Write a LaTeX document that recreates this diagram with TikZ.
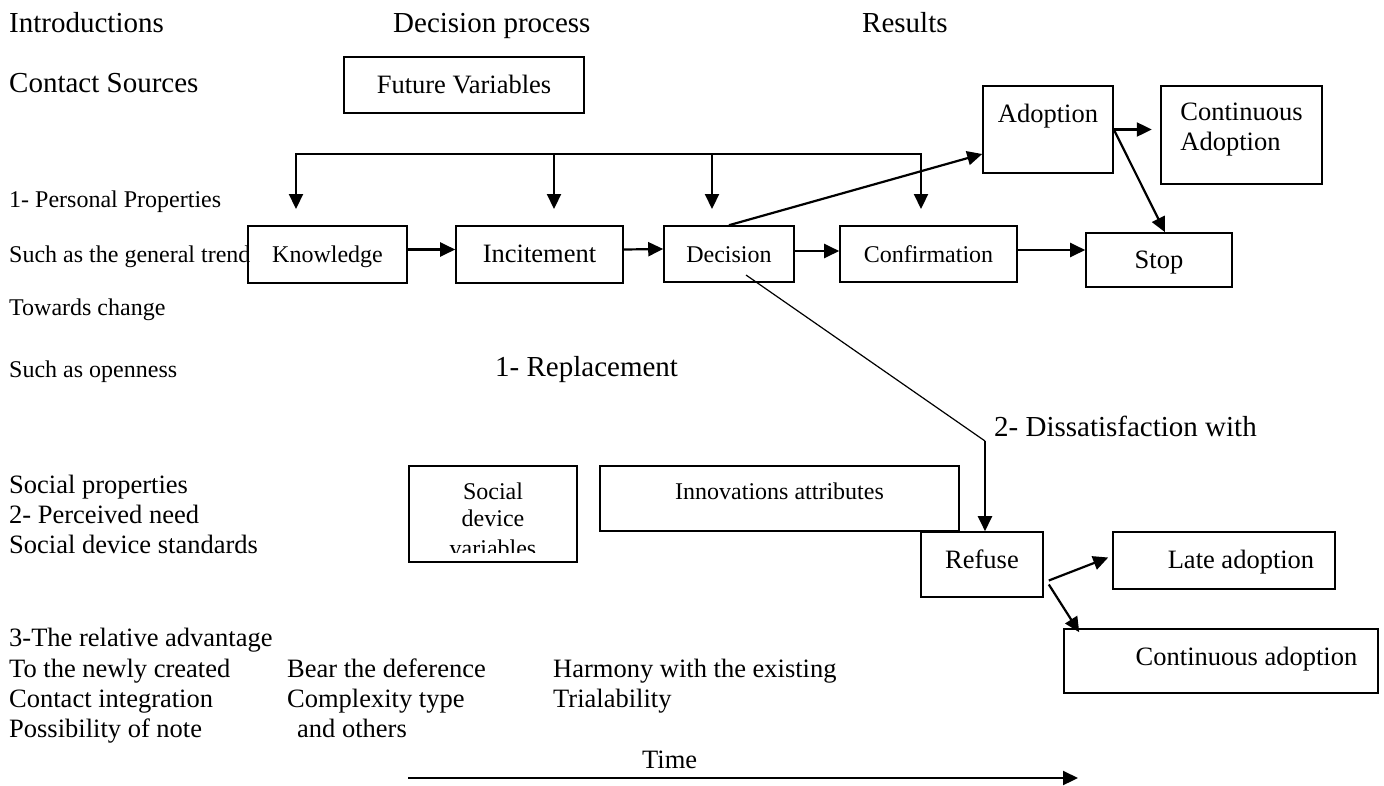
\documentclass[tikz,border=0pt]{standalone}
\usepackage{fontspec}
\setmainfont{Liberation Serif}
\usetikzlibrary{arrows.meta}
\def\stagebox[#1](#2)(#3,#4)(#5,#6)(#7)#8{%
  \pgfmathsetmacro\sbw{#5-#3}%
  \pgfmathsetmacro\sbh{#7-#4}%
  \pgfmathsetmacro\sbd{#6-#7}%
  \node[frm,#1,minimum width=\sbw pt,text height=\sbh pt,text depth=\sbd pt] (#2) at ({(#3+#5)/2},{(#4+#6)/2}) {#8};}
\tikzset{
  frm/.style={draw, line width=1.6pt, inner sep=0pt},
  hdr/.style={font=\fontsize{29}{33}\selectfont},
  med/.style={font=\fontsize{26.5}{30}\selectfont},
  sml/.style={font=\fontsize{24}{27}\selectfont},
  lbl/.style={anchor=base west, inner sep=0pt},
  arr/.style={line width=2.2pt, -{Triangle[length=15pt,width=14pt]}},
  thinline/.style={line width=1.2pt}
}
\begin{document}
\begin{tikzpicture}[x=1pt,y=-1pt]
		\useasboundingbox (0,0) rectangle (1384,785);
		%%%%% HEADINGS %%%%%
		\node[lbl,hdr] (intro) at (9,32) {Introductions};
		\node[lbl,hdr] (process) at (393,32) {Decision process};
		\node[lbl,hdr] (results) at (862,32) {Results};
		\node[lbl,hdr] (contact) at (9,92) {Contact Sources};
		
		%%%%% LEFT COLUMN %%%%%
		\node[lbl,sml] (personal) at (9,207) {1- Personal Properties};
		\node[lbl,sml] (trend) at (9,262) {Such as the general trend};
		\node[lbl,sml] (towards) at (9,315) {Towards change};
		\node[lbl,sml] (openness) at (9,377) {Such as openness};
		\node[lbl,med] (socprop) at (9,493) {Social properties};
		\node[lbl,med] (need) at (9,523) {2- Perceived need};
		\node[lbl,med] (standards) at (9,553) {Social device standards};
		
		\node[lbl,med] (advantage) at (9,646) {3-The relative advantage};
		\node[lbl,med] (newly) at (9,677) {To the newly created};
		\node[lbl,med] (integration) at (9,707) {Contact integration};
		\node[lbl,med] (note) at (9,737) {Possibility of note};
		\node[lbl,med] (deference) at (287,677) {Bear the deference};
		\node[lbl,med] (complexity) at (287,707) {Complexity type};
		\node[lbl,med] (others) at (297,737) {and others};
		\node[lbl,med] (harmony) at (553,677) {Harmony with the existing};
		\node[lbl,med] (trial) at (553,707) {Trialability};
		
		\node[lbl,hdr] (replace) at (495,376) {1- Replacement};
		\node[lbl,hdr] (dissat) at (994,436) {2- Dissatisfaction with};
		
		%%%%% BOXES %%%%%
		\stagebox[med](future)(344,57)(584,113)(93){Future Variables}
		\stagebox[sml](knowledge)(248,226)(407,283)(262){Knowledge}
		\stagebox[med](incitement)(456,226)(623,283)(262){Incitement}
		\stagebox[sml](decision)(664,226)(794,282)(262){Decision}
		\stagebox[sml](confirmation)(840,226)(1017,282)(262){Confirmation}
		\stagebox[med](stop)(1086,233)(1232,287)(268){Stop}
		\stagebox[med](adoption)(983,86)(1113,173)(122){Adoption}
		\stagebox[med](contadopt)(1161,86)(1322,184)(120){\begin{tabular}[t]{@{}l@{}}Continuous\\Adoption\end{tabular}}
		\stagebox[sml](innov)(600,466)(959,531)(499){Innovations attributes}
		\stagebox[med](refuse)(921,532)(1043,597)(568){Refuse}
		\stagebox[med](late)(1113,532)(1335,589)(568){\hspace*{34pt}Late adoption}
		\stagebox[med](contad2)(1064,629)(1378,693)(665){\hspace*{51pt}Continuous adoption}
		
		\stagebox[sml](social)(409,466)(577,562)(499){}
		\begin{scope}
			\clip (409,466) rectangle (577,552);
			\node[sml,anchor=base,inner sep=0pt] (socialtxt) at (social.center |- 0,499) {\begin{tabular}[t]{@{}c@{}}Social\\device\\[3pt]variables\end{tabular}};
		\end{scope}
		
		%%%%% FEEDBACK BUS %%%%%
		\coordinate (busleft) at (296,154);
		\coordinate (busright) at (921,154);
		\draw[line width=2.2pt, line cap=rect] (busleft) -- (busright);
		\foreach \x in {296,554,712,921}
			\draw[arr] (\x,154) -- (\x,209);
		
		%%%%% MAIN CHAIN %%%%%
		\draw[arr] ([yshift=5pt]knowledge.east) -- ([yshift=5pt]incitement.west);
		\draw[arr] ([yshift=5pt]incitement.east) -- ([yshift=5pt]decision.west);
		\draw[arr] ([yshift=3pt]decision.east) -- ([yshift=3pt]confirmation.west);
		\draw[arr] ([yshift=4pt]confirmation.east) -- ([yshift=10pt]stop.west);
		
		\draw[arr] (decision.north) -- ([yshift=-24.5pt]adoption.west);
		\draw[arr] (adoption.east) -- ++(38,0);
		\draw[arr] (adoption.east) -- ([xshift=6pt]stop.north);
		
		\coordinate (bend) at (985,441);
		\draw[thinline] ([xshift=17pt,yshift=-21pt]decision.center) -- (bend);
		\draw[arr] (bend) -- (bend |- refuse.north);
		
		\draw[arr] ([xshift=5pt,yshift=-16pt]refuse.east) -- ([xshift=-4pt,yshift=3pt]late.west);
		\draw[arr] ([xshift=5pt,yshift=-20pt]refuse.east) -- ([xshift=16pt,yshift=-4pt]contad2.north west);
		
		%%%%% TIME %%%%%
		\node[lbl,med] (time) at (642,768) {Time};
		\coordinate (timestart) at (408,778);
		\coordinate (timeend) at (1078,778);
		\draw[arr] (timestart) -- (timeend);
	\end{tikzpicture}
\end{document}
